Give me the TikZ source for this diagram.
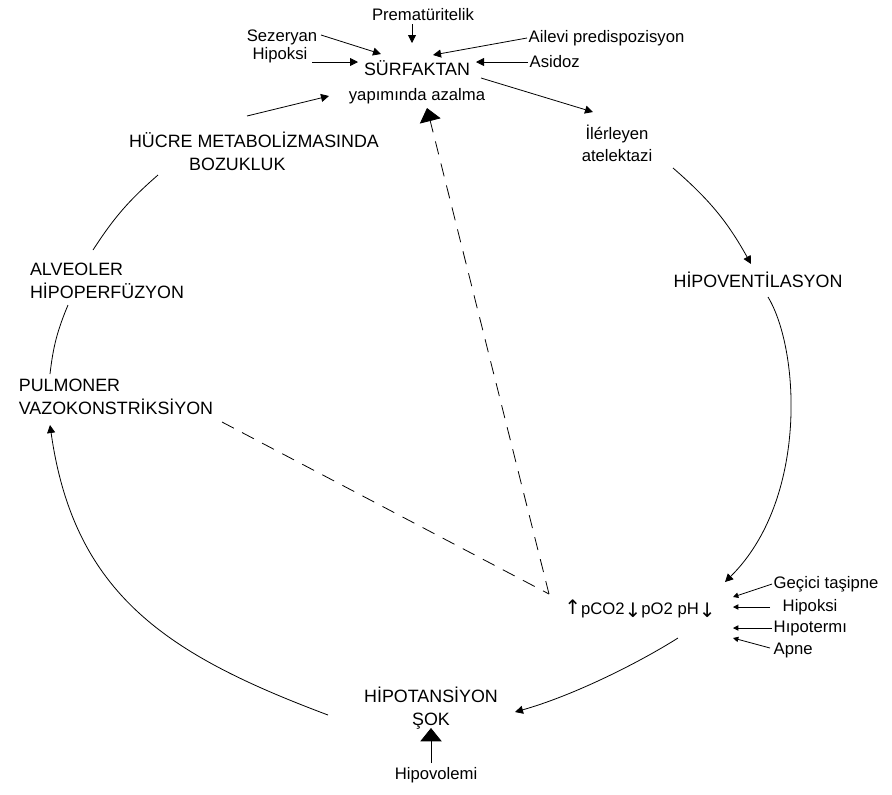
\documentclass[tikz,border=0pt]{standalone}
\usepackage{fontspec}
\setmainfont{Liberation Sans}
\newfontfamily\symfont{DejaVu Sans}
\usetikzlibrary{arrows.meta, calc}

\tikzset{
  lbl/.style={inner sep=1pt, font=\fontsize{12.5}{16.5}\selectfont},
  caps/.style={inner sep=1pt, font=\fontsize{13.4}{17}\selectfont},
  arr/.style={-{Triangle[length=6pt, width=6pt]}},
  tiny/.style={-{Triangle[length=4pt, width=4pt]}},
  fat/.style={-{Triangle[length=10pt, width=16pt]}},
  dashline/.style={dash pattern=on 10pt off 7pt},
}
\newcommand{\okyukari}{{\symfont\fontsize{15}{15}\selectfont↑}}
\newcommand{\okasagi}{{\symfont\fontsize{15}{15}\selectfont\raisebox{-2pt}{↓}}}

\begin{document}
\begin{tikzpicture}[x=0.75pt, y=-0.75pt, line width=0.6pt]
    \useasboundingbox (0,0) rectangle (892,794);

    % Nodes
    \node[lbl] (prem) at (423,15) {Prematüritelik};
    \node[lbl] (sez) at (282,37) {Sezeryan};
    \node[lbl] (hipok1) at (280,55) {Hipoksi};
    \node[lbl, anchor=west] (ailevi) at (527,38) {Ailevi predispozisyon};
    \node[lbl, anchor=west] (asidoz) at (528,62) {Asidoz};
    \node[caps] (surf) at (417,68) {SÜRFAKTAN};
    \node[lbl] (yapim) at (417,96) {yapımında azalma};
    \node[lbl, align=center] (atelek) at (617,143) {İlérleyen\\atelektazi};
    \node[caps] (hipov) at (758,280) {HİPOVENTİLASYON};
    \node[caps, align=center] (hucre) at (254,151) {HÜCRE METABOLİZMASINDA\\BOZUKLUK\hspace*{25pt}};
    \node[caps, align=left] (alveoler) at (107,281) {ALVEOLER\\HİPOPERFÜZYON};
    \node[caps, align=left] (pulmoner) at (116,397) {PULMONER\\VAZOKONSTRİKSİYON};
    \node[lbl] (gaz) at (640,609) {\okyukari pCO2\okasagi pO2 pH\okasagi};
    \node[lbl, anchor=west] (gecici) at (772,584) {Geçici taşipne};
    \node[lbl, anchor=west] (hipok2) at (781,607) {Hipoksi};
    \node[lbl, anchor=west] (hipot) at (772,628) {Hıpotermı};
    \node[lbl, anchor=west] (apne) at (772,650) {Apne};
    \node[caps, align=center] (hipotan) at (431,708) {HİPOTANSİYON\\ŞOK};
    \node[lbl] (hipovol) at (436,775) {Hipovolemi};
    \coordinate (kesisim) at (549,594);

    % Arrows
    \draw[arr] ($(prem)+(-11,9)$) -- ($(surf)+(-5,-25)$);
    \draw[arr] ($(sez)+(39,-2)$) -- ($(surf)+(-36,-14)$);
    \draw[arr] ($(hipok1)+(32,7)$) -- ($(surf)+(-59,-6)$);
    \draw[arr] (ailevi.west) -- ($(surf)+(16,-13)$);
    \draw[arr] (asidoz.west) -- ($(surf)+(59,-6)$);
    \draw[arr] ($(surf)+(64,10)$) -- ($(atelek)+(-24,-31)$);
    \draw[arr] ($(hucre)+(-7,-35)$) -- ($(yapim)+(-88,0)$);
    \draw ($(hucre)+(-96,24)$) to[bend right=8] ($(alveoler)+(-14,-31)$);
    \draw ($(alveoler)+(-39,24)$) to[bend right=8] ($(pulmoner)+(-66,-23)$);
    \draw[arr] ($(atelek)+(56,25)$) to[bend left=10] ($(hipov)+(-7,-16)$);
    \draw[arr] ($(hipov)+(10,17)$) .. controls (800,350) and (808,500) .. ($(gaz)+(85,-27)$);
    \draw[arr] ($(gaz)+(38,29)$) .. controls (640,662) and (575,695) .. ($(hipotan)+(84,4)$);
    \draw[arr] ($(hipotan)+(-103,7)$) .. controls (168,655) and (74,595) .. ($(pulmoner)+(-66,28)$);
    \draw[fat] ($(hipovol)+(-5,-12)$) -- ($(hipotan)+(0,20)$);

    \draw[tiny] (gecici.west) -- ($(gaz)+(93,-12)$);
    \draw[tiny] ($(hipok2.west)+(-11,0)$) -- ($(gaz)+(93,-2)$);
    \draw[tiny] (hipot.west) -- ($(gaz)+(93,19)$);
    \draw[tiny] ($(apne.west)+(-2,-2)$) -- ($(gaz)+(93,29)$);

    \draw[dashline] ($(pulmoner)+(106,25)$) -- (kesisim);
    \draw[dashline, fat] (kesisim) -- ($(yapim)+(10,12)$);
\end{tikzpicture}
\end{document}
